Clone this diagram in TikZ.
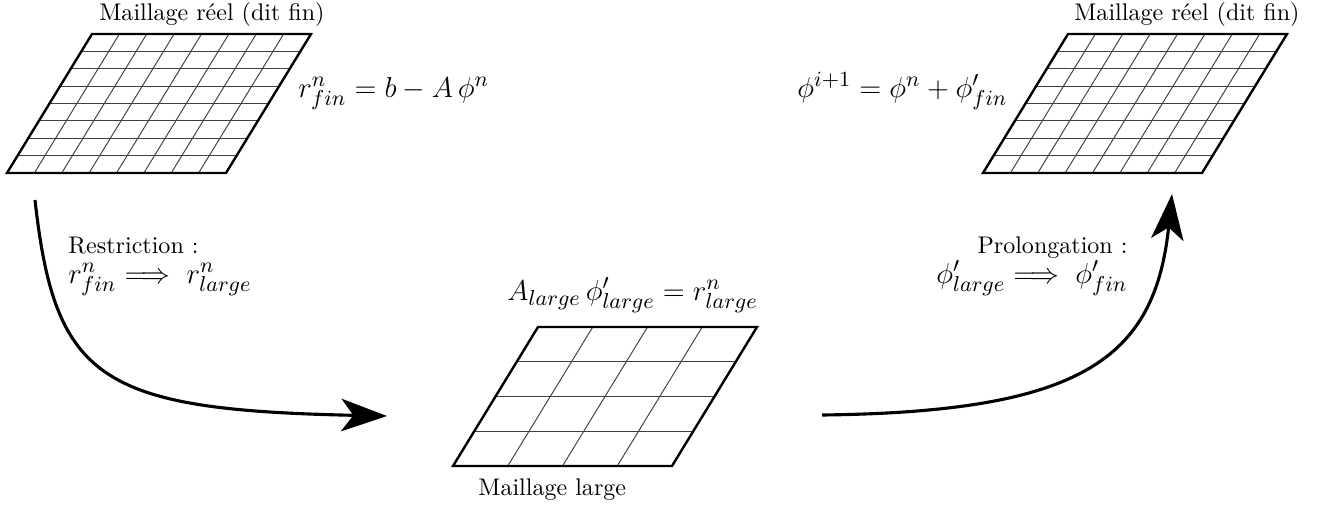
\documentclass[tikz,border=0pt]{standalone}
\usetikzlibrary{arrows.meta}
\newcommand{\meshgrid}[3]{%
  % #1,#2 : bottom-left corner ; #3 : number of cells
  \foreach \i in {1,...,\numexpr#3-1\relax}{
    \draw[gridline] ({#1+219*\i/#3},#2) -- ({#1+85+219*\i/#3},{#2-139});
    \draw[gridline] ({#1+85*\i/#3},{#2-139*\i/#3}) -- ({#1+219+85*\i/#3},{#2-139*\i/#3});
  }
  \draw[gridborder] (#1,#2) -- ({#1+219},#2) -- ({#1+304},{#2-139}) -- ({#1+85},{#2-139}) -- cycle;
}
\begin{document}
\begin{tikzpicture}[x=0.416pt,y=-0.416pt,
  gridline/.style={line width=0.4pt,black!75},
  gridborder/.style={line width=1pt,black,line join=miter},
  flow/.style={line width=1.3pt,-{Stealth[length=19pt,width=13.5pt,inset=5pt]}},
  lbl/.style={inner sep=0pt,font=\normalsize},
  eq/.style={inner sep=0pt,font=\fontsize{12.7}{15}\selectfont}]
\useasboundingbox (0,0) rectangle (1320,506);

% meshes
\meshgrid{7}{173}{8}
\meshgrid{983}{173}{8}
\meshgrid{453}{466}{4}

% labels
\node[lbl,anchor=base] (t1) at (212,21) {Maillage réel (dit fin)};
\node[lbl,anchor=base] (t2) at (1187,21) {Maillage réel (dit fin)};
\node[lbl,anchor=base west] (t3) at (478,495) {Maillage large};
\node[eq,anchor=base west] (e1) at (298,97) {$r^n_{fin} = b - A\,\phi^n$};
\node[eq,anchor=base west] (e2) at (797,97) {$\phi^{i+1} = \phi^n + \phi'_{fin}$};
\node[eq,anchor=base west] (e3) at (507,300) {$A_{large}\,\phi'_{large} = r^n_{large}$};
\node[lbl,anchor=base west] (r1) at (68,253) {Restriction :};
\node[eq,anchor=base west] (r2) at (68,283) {$r^n_{fin} \Longrightarrow\; r^n_{large}$};
\node[lbl,anchor=base east] (p1) at (1128,253) {Prolongation :};
\node[eq,anchor=base east] (p2) at (1128,283) {$\phi'_{large} \Longrightarrow\; \phi'_{fin}$};

% arrows
\coordinate (a0) at (35,200);
\coordinate (a1) at (387,416);
\coordinate (b0) at (822,415);
\coordinate (b1) at (1172,194);
\draw[flow] (a0) .. controls (55,380) and (100,410) .. (a1);
\draw[flow] (b0) .. controls (1080,412) and (1155,360) .. (b1);
\end{tikzpicture}
\end{document}
